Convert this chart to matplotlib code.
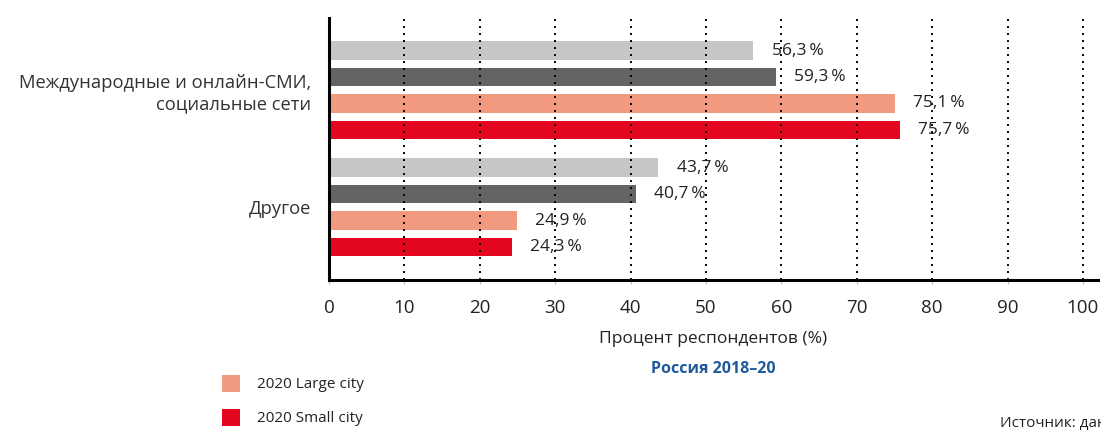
import matplotlib.pyplot as plt
from matplotlib.patches import Rectangle

# --- data ---
categories = ["Международные и онлайн-СМИ,\nсоциальные сети", "Другое"]
series_names = ["2018 Large city", "2018 Small city", "2020 Large city", "2020 Small city"]
series_colors = ["#c6c6c6", "#646464", "#f29a80", "#e2071e"]
values = [
    [56.3, 43.7],
    [59.3, 40.7],
    [75.1, 24.9],
    [75.7, 24.3],
]
x_ticks = [0, 10, 20, 30, 40, 50, 60, 70, 80, 90, 100]
legend_shown = [2, 3]

plt.rcParams['font.family'] = ['Open Sans', 'DejaVu Sans']

W, H = 1101, 430
fig = plt.figure(figsize=(W / 100, H / 100), dpi=100)
fig.patch.set_facecolor('white')

# axes placed in pixel terms
ax = fig.add_axes([329 / W, 1 - 280 / H, (1098 - 329) / W, (280 - 18) / H])

group_pitch = 4.43
bar_h = 0.7
for s, (name, col) in enumerate(zip(series_names, series_colors)):
    ys = [g * group_pitch + s for g in range(len(categories))]
    ax.barh(ys, values[s], height=bar_h, color=col, edgecolor='none', zorder=1)
    for y, v in zip(ys, values[s]):
        ax.annotate(f"{v:.1f}".replace('.', ',') + "\u2009%", (v, y),
                    xytext=(13, 0), textcoords='offset points',
                    va='center', ha='left', fontsize=12.5, color='#222222', zorder=3)

ax.set_xlim(0, 102)
ax.set_ylim(3 + group_pitch + 1.25, -1.23)

ax.set_yticks([g * group_pitch + 1.5 for g in range(len(categories))])
ax.set_yticklabels(categories, fontsize=13.2, color='#333333')
ax.tick_params(axis='y', length=0, pad=13)
for lbl in ax.get_yticklabels():
    lbl.set_horizontalalignment('right')
    lbl.set_multialignment('right')

ax.set_xticks(x_ticks)
ax.tick_params(axis='x', length=3, width=0.8, color='#bbbbbb', labelsize=13.5,
               labelcolor='#222222', pad=11)
ax.set_xlabel("Процент респондентов (%)", fontsize=12.5, color='#222222', labelpad=10)

ax.grid(True, axis='x', color='black', linestyle=(0, (1, 2.6)), linewidth=1.4, zorder=2)
ax.set_axisbelow(False)
for b in ax.patches:
    b.set_zorder(1)
ax.xaxis.get_gridlines()[0].set_visible(False)

for sp in ['top', 'right']:
    ax.spines[sp].set_visible(False)
ax.spines['left'].set_linewidth(2.2)
ax.spines['bottom'].set_linewidth(2.2)
ax.spines['left'].set_zorder(4)
ax.spines['bottom'].set_zorder(4)

# title below the axis
fig.text(713 / W, 1 - 369 / H, "Россия 2018\u201320", ha='center', va='center',
         fontsize=11.5, fontweight='bold', color='#1f5b9b')

# partial legend
leg_y = [384, 418]
for k, idx in enumerate(legend_shown):
    fig.add_artist(Rectangle((222 / W, 1 - (leg_y[k] + 8) / H), 18 / W, 17 / H,
                             transform=fig.transFigure, color=series_colors[idx], lw=0))
    fig.text(257 / W, 1 - leg_y[k] / H, series_names[idx],
             ha='left', va='center', fontsize=11, color='#222222')

# source line, cut at the right edge as in the original
fig.text(1000 / W, 1 - 424 / H, "Источник: данные", ha='left', va='center',
         fontsize=11, color='#222222')

fig.savefig('out.png', dpi=100)
